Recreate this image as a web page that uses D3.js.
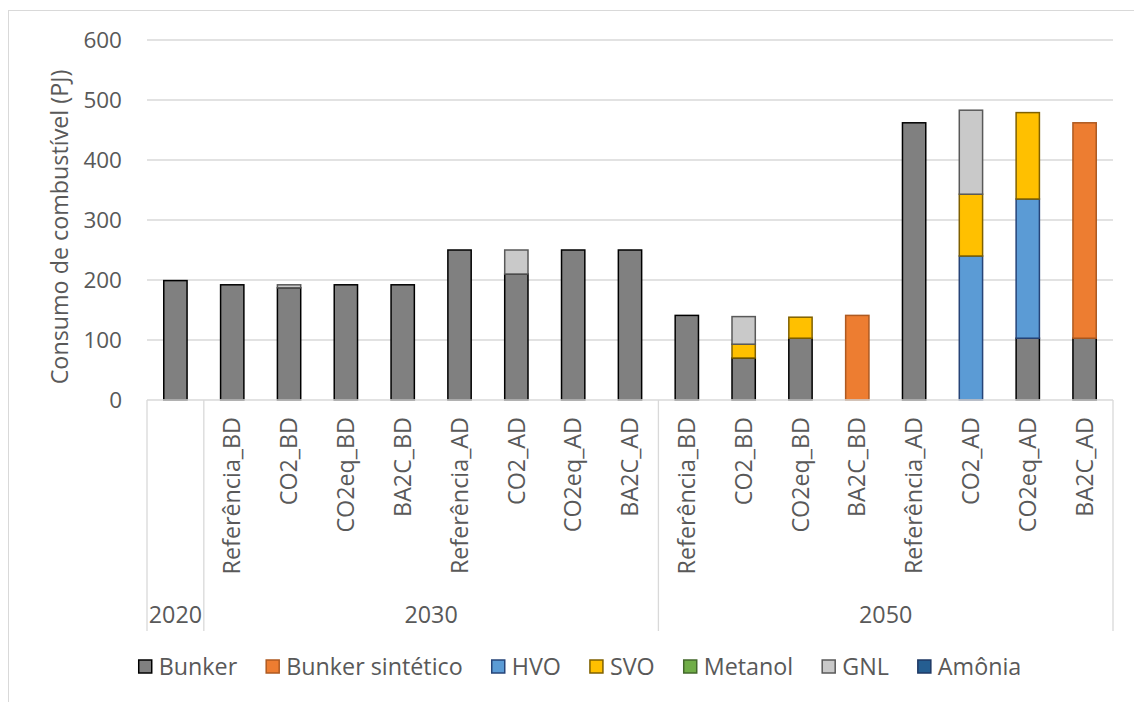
<!DOCTYPE html>
<html lang="pt">
<head>
    <meta charset="UTF-8">
    <title>Consumo de combustível</title>
    <script src="https://d3js.org/d3.v7.min.js"></script>
    <style>
        body { margin: 0; background: #fff; }
        text { font-family: "Open Sans", sans-serif; fill: #595959; font-size: 23.3px; }
        .tick-label { font-size: 22.5px; }
    </style>
</head>
<body>
<div id="chart"></div>
<script>
    // categories (scenario per bar) and the year group each belongs to
    const categories = ["2020",
        "Referência_BD", "CO2_BD", "CO2eq_BD", "BA2C_BD", "Referência_AD", "CO2_AD", "CO2eq_AD", "BA2C_AD",
        "Referência_BD", "CO2_BD", "CO2eq_BD", "BA2C_BD", "Referência_AD", "CO2_AD", "CO2eq_AD", "BA2C_AD"];
    const years = ["2020", "2030", "2030", "2030", "2030", "2030", "2030", "2030", "2030",
        "2050", "2050", "2050", "2050", "2050", "2050", "2050", "2050"];

    const bunker    = [199, 192, 187, 192, 192, 250, 210, 250, 250, 141, 70, 103, 0, 462, 0, 103, 103];
    const sintetico = [0, 0, 0, 0, 0, 0, 0, 0, 0, 0, 0, 0, 141, 0, 0, 0, 359];
    const hvo       = [0, 0, 0, 0, 0, 0, 0, 0, 0, 0, 0, 0, 0, 0, 240, 232, 0];
    const svo       = [0, 0, 0, 0, 0, 0, 0, 0, 0, 0, 23, 35, 0, 0, 103, 144, 0];
    const metanol   = [0, 0, 0, 0, 0, 0, 0, 0, 0, 0, 0, 0, 0, 0, 0, 0, 0];
    const gnl       = [0, 0, 5, 0, 0, 0, 40, 0, 0, 0, 46, 0, 0, 0, 140, 0, 0];
    const amonia    = [0, 0, 0, 0, 0, 0, 0, 0, 0, 0, 0, 0, 0, 0, 0, 0, 0];

    const seriesNames = ["Bunker", "Bunker sintético", "HVO", "SVO", "Metanol", "GNL", "Amônia"];
    const seriesValues = [bunker, sintetico, hvo, svo, metanol, gnl, amonia];
    const fills   = ["#808080", "#ED7D31", "#5B9BD5", "#FFC000", "#70AD47", "#C9C9C9", "#255E91"];
    const strokes = ["#000000", "#AE5A21", "#264478", "#7F6000", "#43682B", "#595959", "#1F3864"];

    const yTicks = [0, 100, 200, 300, 400, 500, 600];

    const width = 1134, height = 702;
    const margin = {left: 147, right: 1113, top: 40, bottom: 400};

    const svg = d3.select("#chart").append("svg")
        .attr("width", width)
        .attr("height", height);

    // chart border
    svg.append("rect")
        .attr("x", 8.5).attr("y", 10.5)
        .attr("width", 1150).attr("height", 720)
        .attr("fill", "none")
        .attr("stroke", "#d9d9d9");

    const idx = d3.range(categories.length);
    const x = d3.scaleBand()
        .domain(idx)
        .range([margin.left, margin.right])
        .paddingInner(0.59)
        .paddingOuter(0.295);

    const y = d3.scaleLinear()
        .domain([0, 600])
        .range([margin.bottom, margin.top]);

    // gridlines
    svg.append("g")
        .selectAll("line")
        .data(yTicks.filter(d => d > 0))
        .join("line")
        .attr("x1", margin.left).attr("x2", margin.right)
        .attr("y1", d => y(d)).attr("y2", d => y(d))
        .attr("stroke", "#d9d9d9")
        .attr("stroke-width", 1.3);

    // y tick labels
    svg.append("g")
        .selectAll("text")
        .data(yTicks)
        .join("text")
        .attr("class", "tick-label")
        .attr("x", 122)
        .attr("y", d => y(d))
        .attr("dy", "0.35em")
        .attr("text-anchor", "end")
        .text(d => d);

    // y axis title
    svg.append("text")
        .attr("transform", "translate(68,227) rotate(-90)")
        .attr("text-anchor", "middle")
        .text("Consumo de combustível (PJ)");

    // stacked bars
    const table = idx.map(i => {
        const row = {i: i};
        seriesNames.forEach((s, k) => row[s] = seriesValues[k][i]);
        return row;
    });
    const stacked = d3.stack().keys(seriesNames)(table);

    svg.append("g")
        .selectAll("g")
        .data(stacked)
        .join("g")
        .attr("fill", (d, k) => fills[k])
        .attr("stroke", (d, k) => strokes[k])
        .attr("stroke-width", 1.5)
        .selectAll("rect")
        .data(d => d.filter(p => p[1] - p[0] > 0))
        .join("rect")
        .attr("x", p => x(p.data.i))
        .attr("width", x.bandwidth())
        .attr("y", p => y(p[1]))
        .attr("height", p => y(p[0]) - y(p[1]));

    // category axis line
    svg.append("line")
        .attr("x1", margin.left).attr("x2", margin.right)
        .attr("y1", y(0)).attr("y2", y(0))
        .attr("stroke", "#d9d9d9")
        .attr("stroke-width", 1.3);

    // group separators
    const groupNames = Array.from(new Set(years));
    const groups = groupNames.map(g => {
        const members = idx.filter(i => years[i] === g);
        return {
            name: g,
            x0: x(members[0]) - x.step() * x.paddingInner() / 2,
            x1: x(members[members.length - 1]) + x.bandwidth() + x.step() * x.paddingInner() / 2
        };
    });
    const sepX = [groups[0].x0].concat(groups.map(g => g.x1));
    svg.append("g")
        .selectAll("line")
        .data(sepX)
        .join("line")
        .attr("x1", d => d).attr("x2", d => d)
        .attr("y1", y(0)).attr("y2", 631)
        .attr("stroke", "#d9d9d9")
        .attr("stroke-width", 1.3);

    // rotated scenario labels (2020 has none)
    svg.append("g")
        .selectAll("text")
        .data(idx.filter(i => years[i] !== "2020"))
        .join("text")
        .attr("transform", i => `translate(${x(i) + x.bandwidth() / 2},${y(0) + 17}) rotate(-90)`)
        .attr("text-anchor", "end")
        .attr("dy", "0.35em")
        .text(i => categories[i]);

    // year labels
    svg.append("g")
        .selectAll("text")
        .data(groups)
        .join("text")
        .attr("x", g => (g.x0 + g.x1) / 2)
        .attr("y", 623)
        .attr("text-anchor", "middle")
        .text(g => g.name);

    // legend
    const legend = svg.append("g").attr("transform", "translate(0,667)");
    const items = legend.selectAll("g")
        .data(seriesNames)
        .join("g");
    items.append("rect")
        .attr("x", 0).attr("y", -7)
        .attr("width", 13).attr("height", 13)
        .attr("fill", (d, k) => fills[k])
        .attr("stroke", (d, k) => strokes[k])
        .attr("stroke-width", 1.5);
    items.append("text")
        .attr("x", 20)
        .attr("dy", "0.35em")
        .text(d => d);

    let cursor = 0;
    const offsets = [];
    items.each(function() {
        offsets.push(cursor);
        const w = d3.select(this).select("text").node().getComputedTextLength();
        cursor += 20 + w + 29;
    });
    const total = cursor - 29;
    const start = 580 - total / 2;
    items.attr("transform", (d, k) => `translate(${start + offsets[k]},0)`);
</script>
</body>
</html>
